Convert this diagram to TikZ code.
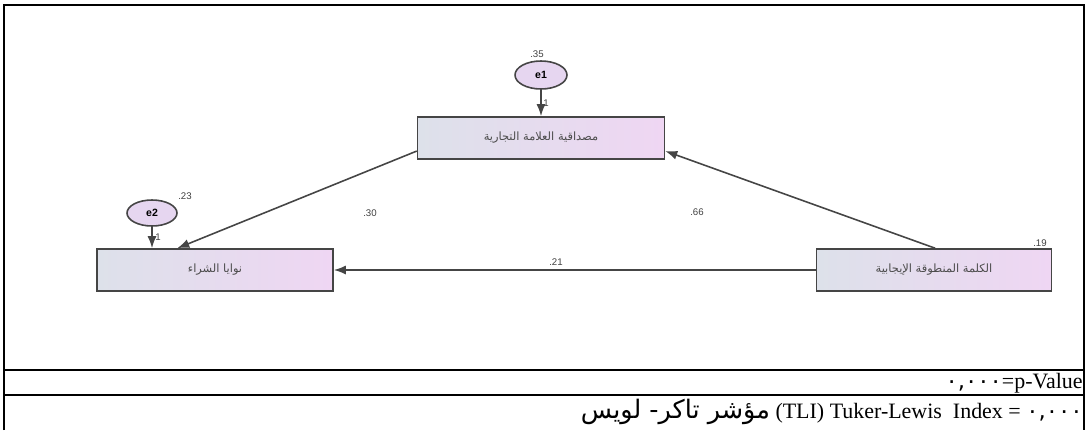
\documentclass[tikz,border=0pt]{standalone}
\usepackage{fontspec}
\setmainfont{Liberation Serif}
\newfontfamily\arabicfont[Script=Arabic]{DejaVu Sans}
\newfontfamily\labelfont{Liberation Sans}
\TeXXeTstate=1
\usetikzlibrary{arrows.meta,positioning,shapes.geometric}
\definecolor{semGray}{HTML}{454545}
\definecolor{semLeft}{HTML}{DDE1EA}
\definecolor{semRight}{HTML}{EFD6F3}
\definecolor{semOval}{HTML}{E6D6F0}

\begin{document}
\begin{tikzpicture}[
  x=0.02cm,y=-0.02cm,
  varbox/.style={rectangle,draw=semGray,line width=0.9pt,left color=semLeft,right color=semRight,minimum height=0.84cm,inner sep=0pt,font=\arabicfont\fontsize{6.5}{8}\selectfont,text=black!70},
  errvar/.style={ellipse,draw=semGray,line width=0.9pt,fill=semOval,minimum width=1.04cm,minimum height=0.56cm,inner sep=0pt,font=\labelfont\fontsize{6}{7}\selectfont\bfseries},
  semarrow/.style={-{Latex[length=2.4mm,width=1.8mm]},line width=0.9pt,color=semGray},
  est/.style={font=\labelfont\fontsize{5.5}{6}\selectfont,text=black!75,inner sep=1pt},
  rule/.style={line width=1.1pt},
  rowtext/.style={anchor=east,inner sep=0pt,font=\fontsize{12.5}{14}\selectfont}
]
\useasboundingbox (0,0) rectangle (1087,430);
% frame of the table
\draw[rule] (4,430) -- (4,5) -- (1084,5) -- (1084,430);
\draw[rule] (4,370) -- (1084,370);
\draw[rule] (4,395) -- (1084,395);
% observed variables
\node[varbox,minimum width=4.94cm] (brand) at (541,138) {\beginR مصداقية العلامة التجارية\endR};
\node[varbox,minimum width=4.72cm] (intent) at (215,270) {\beginR نوايا الشراء\endR};
\node[varbox,minimum width=4.7cm] (wom) at (934,270) {\beginR الكلمة المنطوقة الإيجابية\endR};
% error terms
\node[errvar] (e1) at (541,75) {e1};
\node[errvar,minimum width=1.0cm,minimum height=0.52cm] (e2) at (152,213) {e2};
\draw[semarrow] (e1) -- (brand);
\draw[semarrow] (e2) -- (e2 |- intent.north);
% paths
\draw[semarrow] (brand.186) -- (intent.150);
\draw[semarrow] (wom.87) -- (brand.-6);
\draw[semarrow] (wom) -- (intent);
% estimates
\node[est] (r1) at (537,54) {.35};
\node[est] (r2) at (185,196) {.23};
\node[est] (r3) at (1040,243) {.19};
\node[est] (w1) at (546,103) {1};
\node[est] (w2) at (158,237) {1};
\node[est] (b1) at (370,213) {.30};
\node[est] (b2) at (697,212) {.66};
\node[est] (b3) at (556,262) {.21};
% fit indices
\node[rowtext] (pval) at (1083,383) {{\arabicfont\fontsize{13}{14}\selectfont ٠,٠٠٠}=p-Value};
\node[rowtext] (tli) at (1083,412) {{\arabicfont\fontsize{14.5}{15}\selectfont\beginR مؤشر تاكر- لويس\endR} (TLI) Tuker-Lewis\ \ Index = {\arabicfont\fontsize{13}{14}\selectfont ٠,٠٠٠}};
\end{tikzpicture}
\end{document}
